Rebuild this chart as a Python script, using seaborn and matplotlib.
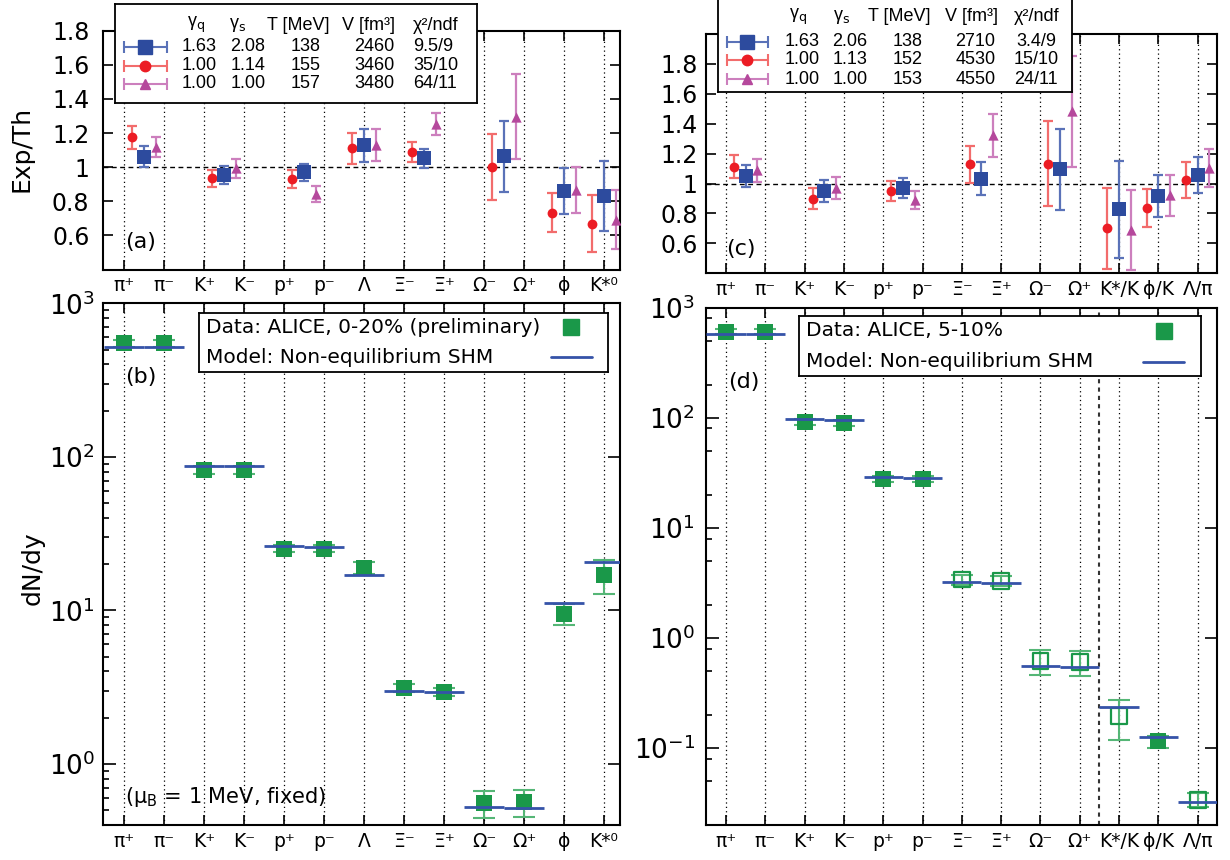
import numpy as np
import pandas as pd
import matplotlib
matplotlib.use("Agg")
import matplotlib.pyplot as plt
from matplotlib.ticker import FixedLocator, FixedFormatter, LogLocator, NullFormatter
import seaborn as sns

sns.set_style("ticks")
plt.rcParams["font.family"] = ["DejaVu Sans"]
plt.rcParams["mathtext.fontset"] = "dejavusans"
for k in ["text.color", "axes.labelcolor", "xtick.color", "ytick.color", "axes.edgecolor"]:
    plt.rcParams[k] = "black"

# ---------------------------------------------------------------- data
labels_left = ["π⁺", "π⁻", "K⁺", "K⁻", "p⁺", "p⁻", "Λ", "Ξ⁻", "Ξ⁺", "Ω⁻", "Ω⁺", "ϕ", "K*⁰"]
labels_right = ["π⁺", "π⁻", "K⁺", "K⁻", "p⁺", "p⁻", "Ξ⁻", "Ξ⁺", "Ω⁻", "Ω⁺", "K*/K", "ϕ/K", "Λ/π"]

# particle groups used for Exp/Th ratios (indices into the label lists)
ratio_groups_a = [[0, 1], [2, 3], [4, 5], [6], [7, 8], [9, 10], [11], [12]]
ratio_groups_c = [[0, 1], [2, 3], [4, 5], [6, 7], [8, 9], [10], [11], [12]]

# panel (a)  Exp/Th
a_noneq = [1.062, 0.952, 0.971, 1.127, 1.052, 1.064, 0.860, 0.829]
a_noneq_err = [0.060, 0.053, 0.050, 0.095, 0.055, 0.207, 0.133, 0.206]
a_semi = [1.175, 0.936, 0.932, 1.111, 1.087, 1.000, 0.734, 0.668]
a_semi_err = [0.066, 0.050, 0.053, 0.092, 0.058, 0.195, 0.115, 0.167]
a_eq = [1.117, 0.994, 0.841, 1.130, 1.253, 1.296, 0.868, 0.693]
a_eq_err = [0.060, 0.055, 0.046, 0.092, 0.067, 0.250, 0.134, 0.172]

# panel (c)  Exp/Th
c_noneq = [1.051, 0.951, 0.969, 1.033, 1.095, 0.829, 0.918, 1.057]
c_noneq_err = [0.072, 0.072, 0.068, 0.112, 0.272, 0.324, 0.140, 0.122]
c_semi = [1.113, 0.900, 0.949, 1.129, 1.133, 0.700, 0.835, 1.024]
c_semi_err = [0.077, 0.067, 0.067, 0.124, 0.282, 0.272, 0.127, 0.118]
c_eq = [1.089, 0.973, 0.889, 1.322, 1.482, 0.689, 0.922, 1.104]
c_eq_err = [0.077, 0.073, 0.062, 0.144, 0.370, 0.270, 0.138, 0.127]

ratio_yticks = [0.6, 0.8, 1.0, 1.2, 1.4, 1.6, 1.8]
ratio_yticklabels = ["0.6", "0.8", "1", "1.2", "1.4", "1.6", "1.8"]

# fit parameter tables
params_header = [r"γ$_{\rm q}$", r"γ$_{\rm s}$", "T [MeV]", "V [fm³]", "χ²/ndf"]
params_a = [["1.63", "2.08", "138", "2460", "9.5/9"],
            ["1.00", "1.14", "155", "3460", "35/10"],
            ["1.00", "1.00", "157", "3480", "64/11"]]
params_c = [["1.63", "2.06", "138", "2710", "3.4/9"],
            ["1.00", "1.13", "152", "4530", "15/10"],
            ["1.00", "1.00", "153", "4550", "24/11"]]

# panel (b) dN/dy, ALICE 0-20%
b_data = [548, 548, 82.3, 82.3, 25.2, 25.2, 19.0, 3.13, 2.94, 0.556, 0.564, 9.5, 17.0]
b_err = [30, 30, 5.2, 5.2, 1.3, 1.3, 1.7, 0.2, 0.18, 0.11, 0.11, 1.5, 4.2]
b_model = [521, 521, 87.3, 87.0, 26.1, 26.0, 16.9, 2.99, 2.96, 0.521, 0.520, 11.1, 20.6]

# panel (d) dN/dy, ALICE 5-10%
d_data = [605, 605, 92, 90, 27.7, 27.7, 3.40, 3.30, 0.618, 0.610, 0.195, 0.115, 0.034]
d_err = [30, 30, 6, 6, 1.8, 1.8, 0.35, 0.35, 0.155, 0.155, 0.077, 0.015, 0.0051]
d_model = [577, 577, 96.7, 96.0, 29.1, 28.5, 3.23, 3.19, 0.561, 0.550, 0.234, 0.126, 0.0323]
d_open = [False, False, False, False, False, False, True, True, True, True, True, False, True]

# ---------------------------------------------------------------- style
BLUE, BLUE_E = "#2d4b9e", "#5a72b8"
RED, RED_E = "#ec1c24", "#f26c6c"
MAG, MAG_E = "#b5489c", "#cc7fbd"
GREEN, GREEN_E = "#1a9849", "#55b676"
MODEL = "#3553a8"
TABLE_FONT = ["Liberation Sans", "DejaVu Sans"]

W, H = 1230, 860
fig = plt.figure(figsize=(W / 100, H / 100), dpi=100)


def ax_px(l, t, r, b):
    return fig.add_axes([l / W, 1 - b / H, (r - l) / W, (b - t) / H])


def ftext(x, y, s, **kw):
    fig.text(x / W, 1 - y / H, s, **kw)


def base_axes(ax, labels, xlim):
    ax.set_xlim(*xlim)
    ax.xaxis.set_major_locator(FixedLocator(range(len(labels))))
    ax.set_xticklabels(labels, fontsize=13.5)
    ax.xaxis.grid(True, linestyle=(0, (1, 2.5)), color="black", linewidth=0.9)
    ax.yaxis.grid(False)
    ax.tick_params(which="both", direction="in", top=True, right=True, width=1.2)
    ax.tick_params(which="major", length=7)
    ax.tick_params(which="minor", length=4)
    ax.tick_params(axis="x", pad=5)
    for s in ax.spines.values():
        s.set_linewidth(1.5)
    ax.set_xlabel("")
    ax.set_ylabel("")


def ratio_panel(ax, labels, groups, series, xlim, ylim, ypad):
    centers = np.array([np.mean(g) for g in groups])
    for vals, errs, col, ecol, mk, size, off in series:
        x = centers + off
        ax.errorbar(x, vals, yerr=errs, fmt="none", ecolor=ecol, elinewidth=1.6,
                    capsize=3.5, capthick=1.6, zorder=2)
        sns.scatterplot(x=x, y=vals, marker=mk, s=size, color=col, linewidth=0,
                        ax=ax, zorder=3, legend=False)
    ax.axhline(1.0, linestyle=(0, (3.5, 2.5)), color="black", linewidth=1.0, zorder=1)
    base_axes(ax, labels, xlim)
    ax.set_ylim(*ylim)
    ax.yaxis.set_major_locator(FixedLocator(ratio_yticks))
    ax.yaxis.set_major_formatter(FixedFormatter(ratio_yticklabels))
    ax.tick_params(axis="y", labelsize=17, pad=ypad)


def yield_panel(ax, labels, data, err, model, open_flags, xlim, ylim, subs, ypad):
    x = np.arange(len(labels))
    df = pd.DataFrame({"x": x, "y": data, "open": open_flags})
    ax.errorbar(x, data, yerr=err, fmt="none", ecolor=GREEN_E, elinewidth=1.5,
                capsize=8, capthick=1.5, zorder=2)
    filled = df[~df["open"]]
    sns.scatterplot(data=filled, x="x", y="y", marker="s", s=140, color=GREEN,
                    linewidth=0, ax=ax, zorder=3, legend=False)
    hollow = df[df["open"]]
    if len(hollow):
        sns.scatterplot(data=hollow, x="x", y="y", marker="s", s=130, color=GREEN,
                        facecolor="none", edgecolor=GREEN, linewidth=1.6,
                        ax=ax, zorder=3, legend=False)
    ax.hlines(model, x - 0.5, x + 0.5, color=MODEL, linewidth=2.0, zorder=4)
    ax.set_yscale("log")
    base_axes(ax, labels, xlim)
    ax.set_ylim(*ylim)
    ax.yaxis.set_major_locator(LogLocator(base=10, numticks=10))
    ax.yaxis.set_minor_locator(LogLocator(base=10, subs=subs, numticks=20))
    ax.yaxis.set_minor_formatter(NullFormatter())
    ax.tick_params(axis="y", labelsize=19, pad=ypad)
    ax.tick_params(axis="y", which="major", length=9)
    ax.tick_params(axis="y", which="minor", right=False)


def overlay(l, t, r, b, hide_top=False):
    ov = ax_px(l, t, r, b)
    ov.set_xlim(l, r)
    ov.set_ylim(b, t)
    ov.set_xticks([])
    ov.set_yticks([])
    ov.set_facecolor("white")
    for s in ov.spines.values():
        s.set_linewidth(1.3)
        s.set_color("black")
    if hide_top:
        ov.spines["top"].set_visible(False)
    ov.set_zorder(10)
    return ov


def params_legend(box, header_y, header_x, row_y, col_x, chi_ha, sample, params):
    ov = overlay(*box, hide_top=box[1] < 0)
    for i, h in enumerate(params_header):
        ha = chi_ha if i == 4 else "center"
        ov.text(header_x[i], header_y, h, ha=ha, va="center", fontsize=13, family=TABLE_FONT)
    styles = [(BLUE, BLUE_E, "s", 10), (RED, RED_E, "o", 7.5), (MAG, MAG_E, "^", 7)]
    x0, x1, cx = sample
    for r, (vals, (col, ecol, mk, ms)) in enumerate(zip(params, styles)):
        y = row_y[r]
        ov.errorbar([cx], [y], xerr=[[cx - x0], [x1 - cx]], fmt=mk, color=col, ms=ms,
                    mec=col, ecolor=ecol, elinewidth=1.5, capsize=4, capthick=1.5)
        for i, v in enumerate(vals):
            ha = chi_ha if i == 4 else "center"
            ov.text(col_x[i], y, v, ha=ha, va="center", fontsize=13, family=TABLE_FONT)


def yield_legend(box, text_x, row_y, mark_x, line_x, data_label):
    ov = overlay(*box)
    ov.text(text_x, row_y[0], data_label, ha="left", va="center", fontsize=14.5)
    ov.text(text_x, row_y[1], "Model: Non-equilibrium SHM", ha="left", va="center", fontsize=14.5)
    ov.plot([mark_x], [row_y[0]], marker="s", ms=11, color=GREEN, linestyle="none")
    ov.plot(line_x, [row_y[1], row_y[1]], color=MODEL, linewidth=2.0)


# ---------------------------------------------------------------- panels
ax_a = ax_px(103.3, 30.7, 620, 269.5)
ratio_panel(ax_a, labels_left, ratio_groups_a,
            [(a_semi, a_semi_err, RED, RED_E, "o", 50, -0.3),
             (a_noneq, a_noneq_err, BLUE, BLUE_E, "s", 110, 0.0),
             (a_eq, a_eq_err, MAG, MAG_E, "^", 55, 0.3)],
            (-0.52, 12.4), (0.4, 1.8), 10)

ax_c = ax_px(706, 34, 1217.3, 273.3)
ratio_panel(ax_c, labels_right, ratio_groups_c,
            [(c_semi, c_semi_err, RED, RED_E, "o", 50, -0.3),
             (c_noneq, c_noneq_err, BLUE, BLUE_E, "s", 110, 0.0),
             (c_eq, c_eq_err, MAG, MAG_E, "^", 55, 0.3)],
            (-0.51, 12.5), (0.4, 2.0), 6)

ax_b = ax_px(103.3, 303.3, 620, 825)
yield_panel(ax_b, labels_left, b_data, b_err, b_model, [False] * 13,
            (-0.52, 12.4), (0.4, 1000), np.arange(2, 10), 6)

ax_d = ax_px(706, 307.7, 1217.3, 825)
yield_panel(ax_d, labels_right, d_data, d_err, d_model, d_open,
            (-0.51, 12.5), (0.02, 1000), (2.0, 5.0, 8.0), 8)
ax_d.axvline(9.5, linestyle=(0, (2, 2)), color="#333333", linewidth=1.5, zorder=1)

# ---------------------------------------------------------------- legends
params_legend((115, 4, 477.3, 102.7), 25, [196, 238, 298, 369, 413],
              [46.7, 65.7, 84], [199.5, 248, 306, 374, 413], "left",
              (124.3, 166.7, 145), params_a)
params_legend((718.3, -3, 1071.7, 91.7), 16.7, [798, 841.7, 899, 971.7, 1037],
              [41.7, 60, 79.3], [801.7, 850, 907.5, 975.5, 1036], "center",
              (726.7, 768.3, 747.3), params_c)

yield_legend((199, 313, 608.3, 372.3), 206, [327.3, 357.3], 570.7, [550.7, 591.7],
             "Data: ALICE, 0-20% (preliminary)")
yield_legend((799.3, 316, 1200.7, 375.7), 806, [330.7, 361.7], 1164.3, [1143, 1184],
             "Data: ALICE, 5-10%")

# ---------------------------------------------------------------- labels
ftext(21.7, 149, "Exp/Th", rotation=90, ha="center", va="center", fontsize=18)
ftext(33, 568, "dN/dy", rotation=90, ha="center", va="center", fontsize=18)
ftext(141, 241.7, "(a)", ha="center", va="center", fontsize=16)
ftext(141, 377.3, "(b)", ha="center", va="center", fontsize=16)
ftext(741.3, 249.3, "(c)", ha="center", va="center", fontsize=16)
ftext(743.5, 381.7, "(d)", ha="center", va="center", fontsize=16)
ftext(125, 796.7, r"(μ$_{\rm B}$ = 1 MeV, fixed)", ha="left", va="center", fontsize=15)

fig.savefig("out.png", dpi=100)
